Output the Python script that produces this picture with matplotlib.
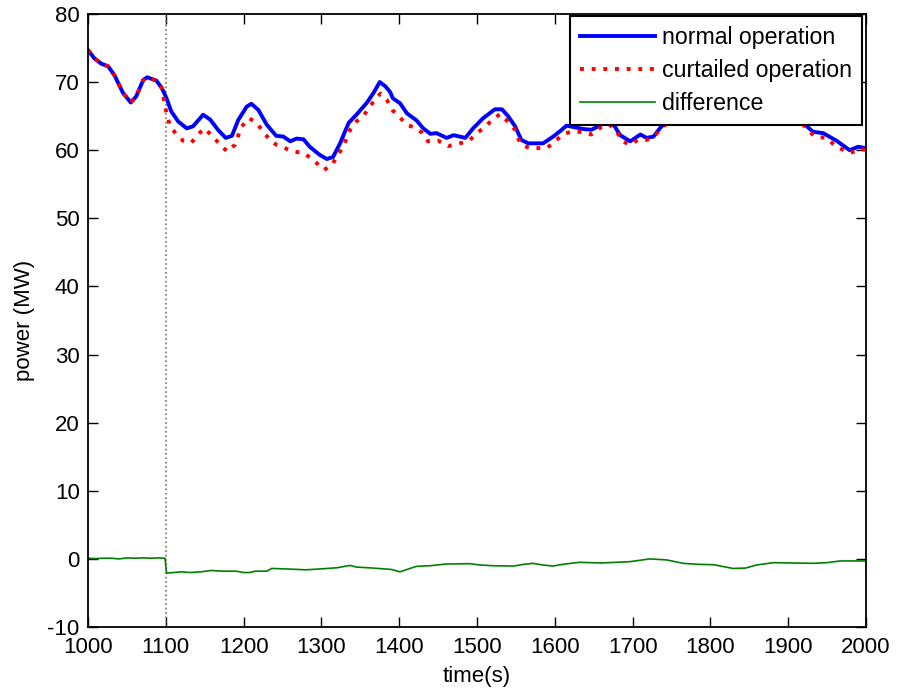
import matplotlib
matplotlib.use('Agg')
import matplotlib.pyplot as plt

# normal operation (MW)
normal_t = [1000, 1008, 1017, 1026, 1034, 1045, 1055, 1062, 1071, 1076, 1088, 1095,
            1101, 1107, 1116, 1127, 1135, 1148, 1157, 1167, 1177, 1185, 1193, 1204,
            1210, 1219, 1230, 1242, 1251, 1260, 1268, 1277, 1285, 1298, 1307, 1315,
            1324, 1335, 1345, 1358, 1367, 1375, 1382, 1388, 1392, 1401, 1410, 1422,
            1431, 1440, 1448, 1461, 1470, 1485, 1495, 1508, 1523, 1532, 1540, 1549,
            1557, 1566, 1585, 1598, 1607, 1615, 1624, 1637, 1647, 1658, 1668, 1677,
            1684, 1697, 1710, 1718, 1727, 1735, 1750, 1775, 1800, 1830, 1860, 1890,
            1912, 1924, 1932, 1945, 1962, 1979, 1990, 2000]
normal_p = [74.7, 73.5, 72.7, 72.3, 71.0, 68.4, 67.0, 67.9, 70.3, 70.7, 70.2, 69.1,
            67.6, 65.7, 64.2, 63.2, 63.5, 65.2, 64.5, 63.0, 61.8, 62.1, 64.4, 66.4,
            66.8, 65.9, 63.7, 62.1, 62.0, 61.3, 61.7, 61.6, 60.5, 59.3, 58.7, 59.0,
            61.0, 64.0, 65.2, 66.9, 68.4, 70.0, 69.4, 68.6, 67.6, 66.9, 65.4, 64.4,
            63.2, 62.4, 62.5, 61.8, 62.2, 61.8, 63.2, 64.7, 66.0, 66.0, 65.0, 63.5,
            61.5, 61.0, 61.0, 62.0, 62.8, 63.6, 63.4, 63.1, 63.0, 63.6, 64.3, 63.5,
            62.2, 61.3, 62.3, 61.8, 62.0, 63.2, 65.0, 66.5, 65.5, 66.8, 65.8, 66.5,
            65.0, 63.5, 62.7, 62.5, 61.4, 60.0, 60.5, 60.3]

# curtailed operation (MW)
curt_t = [1000, 1008, 1017, 1026, 1034, 1045, 1055, 1062, 1071, 1076, 1088, 1095,
          1099, 1105, 1113, 1122, 1133, 1142, 1150, 1161, 1170, 1179, 1189, 1197,
          1207, 1217, 1225, 1234, 1242, 1253, 1264, 1277, 1283, 1294, 1303, 1313,
          1320, 1328, 1337, 1345, 1355, 1362, 1369, 1376, 1384, 1392, 1401, 1410,
          1418, 1429, 1437, 1450, 1463, 1478, 1490, 1500, 1510, 1521, 1530, 1538,
          1549, 1552, 1557, 1568, 1590, 1600, 1612, 1624, 1637, 1647, 1660, 1670,
          1680, 1686, 1696, 1707, 1718, 1729, 1735, 1750, 1775, 1800, 1830, 1860,
          1890, 1912, 1924, 1934, 1949, 1962, 1979, 1994, 2000]
curt_p = [74.7, 73.5, 72.7, 72.3, 71.0, 68.4, 67.0, 67.9, 70.3, 70.7, 70.2, 69.1,
          66.4, 63.7, 62.4, 61.4, 61.1, 62.4, 63.2, 61.9, 60.8, 59.8, 60.8, 63.4,
          64.7, 64.0, 62.7, 61.5, 60.8, 60.3, 59.8, 59.6, 59.1, 58.1, 57.1, 57.7,
          59.1, 60.5, 63.0, 64.2, 65.2, 66.3, 67.5, 68.3, 67.4, 65.8, 64.8, 63.7,
          63.4, 62.6, 61.3, 61.4, 60.6, 61.0, 61.4, 62.5, 63.4, 64.6, 65.3, 64.4,
          63.0, 61.9, 60.8, 60.3, 60.3, 61.3, 62.4, 62.8, 62.6, 62.3, 63.4, 63.8,
          62.7, 61.4, 60.8, 61.5, 61.5, 62.2, 63.0, 64.5, 66.0, 65.0, 66.0, 65.0,
          65.8, 64.5, 63.2, 62.0, 61.8, 60.5, 59.6, 60.1, 60.1]

# difference (MW)
diff_t = [1000, 1010, 1020, 1030, 1040, 1050, 1060, 1070, 1080, 1090, 1099, 1101,
          1110, 1120, 1131, 1145, 1158, 1165, 1175, 1190, 1200, 1208, 1215, 1230,
          1236, 1260, 1280, 1302, 1320, 1337, 1345, 1367, 1390, 1401, 1410, 1422,
          1440, 1460, 1490, 1505, 1520, 1547, 1560, 1572, 1585, 1598, 1610, 1632,
          1660, 1697, 1722, 1744, 1765, 1785, 1804, 1820, 1829, 1845, 1859, 1881,
          1905, 1932, 1950, 1967, 2000]
diff_p = [0.1, 0.05, 0.1, 0.1, 0.0, 0.15, 0.1, 0.15, 0.1, 0.15, 0.1, -2.1,
          -2.0, -1.9, -2.0, -1.9, -1.7, -1.75, -1.8, -1.8, -2.0, -2.0, -1.8, -1.8,
          -1.4, -1.5, -1.6, -1.45, -1.3, -0.95, -1.2, -1.35, -1.55, -1.9, -1.55, -1.1,
          -1.0, -0.75, -0.7, -0.9, -1.0, -1.05, -0.8, -0.65, -0.9, -1.05, -0.8, -0.5,
          -0.6, -0.4, 0.0, -0.15, -0.65, -0.8, -0.85, -1.2, -1.4, -1.35, -0.9, -0.55,
          -0.6, -0.65, -0.55, -0.3, -0.3]

curtail_start = 1100

plt.rcParams['font.family'] = ['Liberation Sans', 'DejaVu Sans']
plt.rcParams['font.size'] = 16
plt.rcParams['axes.unicode_minus'] = False

fig = plt.figure(figsize=(8.97, 6.96), dpi=100)
ax = fig.add_axes([0.0981, 0.0991, 0.8673, 0.8809])

ax.axvline(curtail_start, color='#707070', linestyle=':', linewidth=1.2)
ax.plot(normal_t, normal_p, color='#0000ff', linewidth=2.8, label='normal operation')
ax.plot(curt_t, curt_p, color='#ff0000', linestyle=(0, (1, 2)), linewidth=2.8,
        label='curtailed operation')
ax.plot(diff_t, diff_p, color='#008000', linewidth=1.2, label='difference')

ax.set_xlim(1000, 2000)
ax.set_ylim(-10, 80)
ax.set_xticks(range(1000, 2001, 100))
ax.set_yticks(range(-10, 81, 10))
ax.tick_params(direction='in', top=True, right=True, length=7, width=1)
ax.tick_params(axis='x', pad=7)
ax.tick_params(axis='y', pad=6)
for s in ax.spines.values():
  s.set_linewidth(1.3)
ax.set_xlabel('time(s)', labelpad=6)
ax.set_ylabel('power (MW)', labelpad=9)

leg = ax.legend(loc='upper right', bbox_to_anchor=(0.995, 0.997), borderaxespad=0,
                fancybox=False, framealpha=1, edgecolor='black', handlelength=3.2,
                handletextpad=0.3, labelspacing=0.42, borderpad=0.45, fontsize=16.7)
leg.get_frame().set_linewidth(1.5)

fig.savefig('out.png', dpi=100)
